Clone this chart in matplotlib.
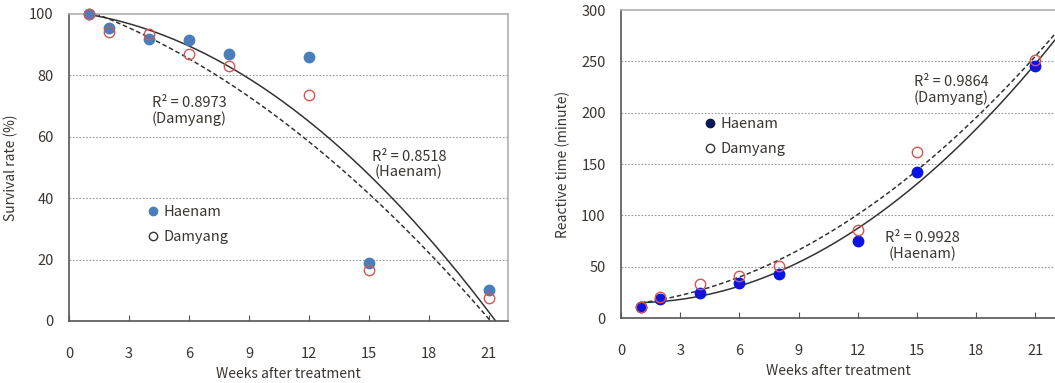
import numpy as np
import matplotlib as mpl
mpl.use('Agg')
from matplotlib import pyplot as plt
from matplotlib.lines import Line2D

plt.rcParams['font.family'] = ['Noto Sans CJK KR', 'DejaVu Sans']
plt.rcParams['font.size'] = 10.5
txt_col = '#3a3530'

### data
weeks = [1, 2, 4, 6, 8, 12, 15, 21]
surv_haenam = [100, 95.5, 92, 91.5, 87, 86, 19, 10]
surv_damyang = [100, 94, 93.5, 87, 83, 73.5, 16.5, 7.5]
react_haenam = [11, 19, 24, 34, 43, 75.5, 142, 245.5]
react_damyang = [11, 20.5, 33, 41, 51, 86, 162, 251]

r2_surv = ['R² = 0.8973\n(Damyang)', 'R² = 0.8518\n(Haenam)']
r2_react = ['R² = 0.9864\n(Damyang)', 'R² = 0.9928\n(Haenam)']

fig = plt.figure(figsize=(10.55, 3.83), dpi=100)
ax1 = fig.add_axes([0.0654, 0.162, 0.416, 0.8016])
ax2 = fig.add_axes([0.5886, 0.1697, 0.4114, 0.804])


def style(ax, yticks, ylabel, xmax, ymax):
	ax.set_xlim(0, xmax)
	ax.set_ylim(0, ymax)
	ax.set_xticks(range(0, 22, 3))
	ax.set_yticks(yticks)
	for s in ['left', 'bottom']:
		ax.spines[s].set_color('#555555')
		ax.spines[s].set_linewidth(1.2)
	for s in ['top', 'right']:
		ax.spines[s].set_color('#b0b0b0')
		ax.spines[s].set_linewidth(1.2)
	ax.tick_params(axis='x', direction='in', length=4, color='#555555',
		pad=19, labelcolor=txt_col)
	ax.tick_params(axis='y', length=0, pad=11, labelcolor=txt_col)
	for v in yticks[1:-1]:
		ax.axhline(v, color='#999999', lw=0.8, ls=(0, (1.5, 1.5)), zorder=0)
	ax.set_xlabel('Weeks after treatment', color=txt_col, labelpad=4,
		fontsize=10)
	ax.set_ylabel(ylabel, color=txt_col, labelpad=8, fontsize=10)


def trend(ax, x, y, ls, xmax):
	p = np.polyfit(x, y, 2)
	xx = np.linspace(1, xmax, 300)
	ax.plot(xx, np.polyval(p, xx), color='#333333', lw=1.1, ls=ls, zorder=2)


def r2_text(ax, x, y, s):
	ax.text(x, y, s, ha='center', va='center', multialignment='center',
		color=txt_col, linespacing=1.1)


########## left: survival rate
blue1 = '#4a7ebb'
style(ax1, [0, 20, 40, 60, 80, 100], 'Survival rate (%)', 21.95, 100)
trend(ax1, weeks, surv_haenam, '-', 22)
trend(ax1, weeks, surv_damyang, (0, (3, 1.8)), 22)
ax1.plot(weeks, surv_haenam, 'o', color=blue1, ms=7.5, zorder=3, clip_on=False)
ax1.plot(weeks, surv_damyang, 'o', mfc='none', mec='#d9534f', mew=1.0,
	ms=7.5, zorder=4, clip_on=False)
r2_text(ax1, 6.0, 68.5, r2_surv[0])
r2_text(ax1, 17.0, 51, r2_surv[1])
h1 = [Line2D([], [], marker='o', ls='', color=blue1, ms=6),
	Line2D([], [], marker='o', ls='', mfc='none', mec='#333333', ms=6)]
ax1.legend(h1, ['Haenam', 'Damyang'], loc='upper left',
	bbox_to_anchor=(0.163, 0.40), frameon=False, handlelength=0.7,
	handletextpad=0.4, labelspacing=0.75, borderpad=0, labelcolor=txt_col)

########## right: reactive time
blue2 = '#0a14e6'
style(ax2, [0, 50, 100, 150, 200, 250, 300], 'Reactive time (minute)', 22, 300)
ax2.spines['right'].set_visible(False)
trend(ax2, weeks, react_haenam, '-', 22)
trend(ax2, weeks, react_damyang, (0, (3, 1.8)), 22)
ax2.plot(weeks, react_haenam, 'o', color=blue2, ms=7.5, zorder=3)
ax2.plot(weeks, react_damyang, 'o', mfc='none', mec='#d9534f', mew=1.0,
	ms=7.5, zorder=4)
r2_text(ax2, 16.75, 222, r2_react[0])
r2_text(ax2, 15.3, 70, r2_react[1])
h2 = [Line2D([], [], marker='o', ls='', color='#0b1a55', ms=6),
	Line2D([], [], marker='o', ls='', mfc='none', mec='#333333', ms=6)]
ax2.legend(h2, ['Haenam', 'Damyang'], loc='upper left',
	bbox_to_anchor=(0.176, 0.675), frameon=False, handlelength=0.7,
	handletextpad=0.4, labelspacing=0.75, borderpad=0, labelcolor=txt_col)

fig.savefig('out.png', dpi=100)
plt.close()
